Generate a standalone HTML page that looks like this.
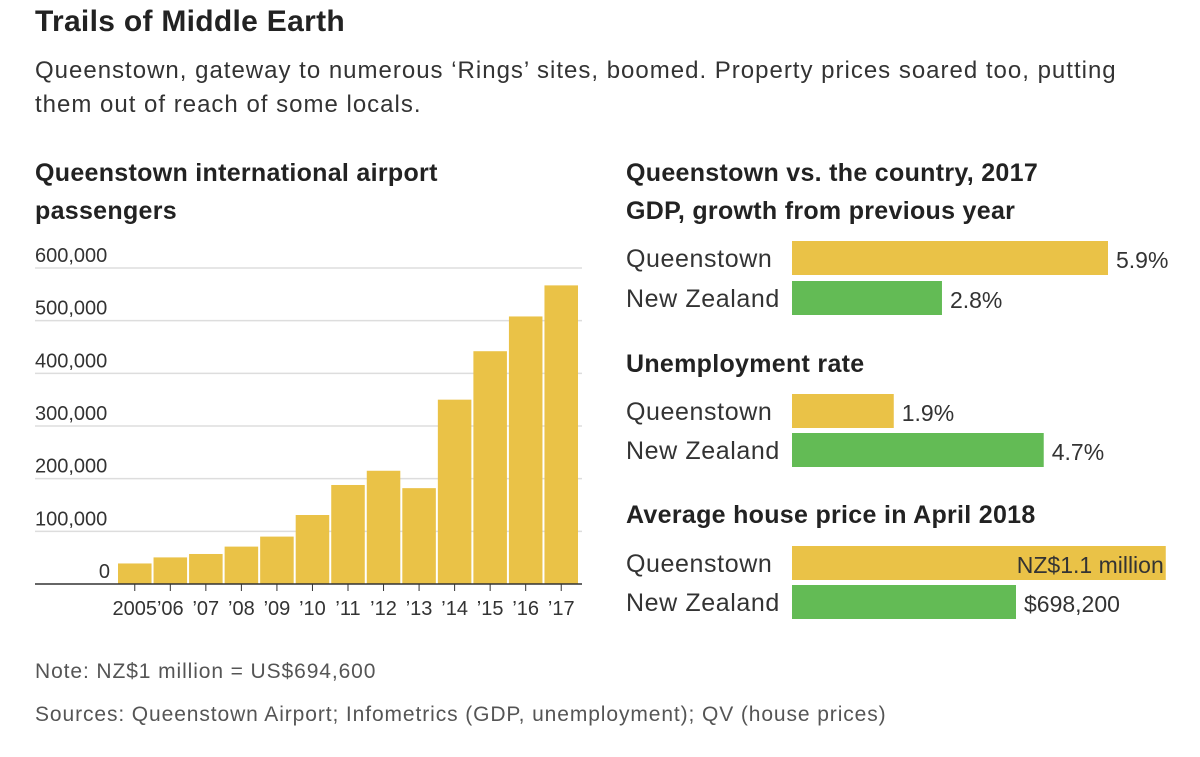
<!DOCTYPE html>
<html><head><meta charset="utf-8"><style>
body{margin:0;background:#fff;font-family:"Liberation Sans",sans-serif;color:#222;}
.t{position:absolute;white-space:nowrap}
</style></head><body>
<div style="position:relative;width:1200px;height:757px;overflow:hidden">
<div class="t" style="left:35px;top:5px;font-size:30px;font-weight:bold;letter-spacing:0.3px">Trails of Middle Earth</div>
<div class="t" style="left:35px;top:54px;font-size:24px;letter-spacing:1px;line-height:34px;color:#333">Queenstown, gateway to numerous ‘Rings’ sites, boomed. Property prices soared too, putting<br>them out of reach of some locals.</div>
<div class="t" style="left:35px;top:154px;font-size:25px;letter-spacing:0.3px;font-weight:bold;line-height:38px">Queenstown international airport<br>passengers</div>
<div class="t" style="left:626px;top:154px;font-size:25px;letter-spacing:0.3px;font-weight:bold;line-height:38px">Queenstown vs. the country, 2017<br>GDP, growth from previous year</div>
<div class="t" style="left:626px;top:350px;font-size:25px;letter-spacing:0.3px;font-weight:bold">Unemployment rate</div>
<div class="t" style="left:626px;top:501px;font-size:25px;letter-spacing:0.3px;font-weight:bold">Average house price in April 2018</div>
<div class="t" style="left:35px;top:660px;font-size:21px;letter-spacing:0.9px;color:#555">Note: NZ$1 million = US$694,600</div>
<div class="t" style="left:35px;top:703px;font-size:21px;letter-spacing:0.9px;color:#555">Sources: Queenstown Airport; Infometrics (GDP, unemployment); QV (house prices)</div>
<svg id="svg" width="1200" height="757" style="position:absolute;left:0;top:0"></svg>
</div>
<script>
const years=["2005","’06","’07","’08","’09","’10","’11","’12","’13","’14","’15","’16","’17"];
const passengers=[39000,50500,57000,71000,90000,131000,188000,215000,182000,350000,442000,508000,567000];
const yTicks=[0,100000,200000,300000,400000,500000,600000];
const yTickLabels=["0","100,000","200,000","300,000","400,000","500,000","600,000"];
const places=["Queenstown","New Zealand"];
const gdp=[5.9,2.8];
const gdpLabels=["5.9%","2.8%"];
const unemp=[1.9,4.7];
const unempLabels=["1.9%","4.7%"];
const house=[1165000,698200];
const houseLabels=["NZ$1.1 million","$698,200"];
const NS="http://www.w3.org/2000/svg";
const svg=document.getElementById('svg');
function mk(t,a){const e=document.createElementNS(NS,t);for(const k in a)e.setAttribute(k,a[k]);svg.appendChild(e);return e;}
const y0=584,yTop=268,yMax=600000;
const y=v=>y0-(v/yMax)*(y0-yTop);
const bx0=118,step=(580-118)/years.length;
const x=i=>bx0+i*step;
yTicks.forEach((v,i)=>{
  if(v>0){const g=mk('line',{x1:35,x2:582,y1:y(v),y2:y(v),stroke:'#ddd','stroke-width':1.5});
  
  }
  const t=mk('text',{x:v===0?110:35,y:y(v)-6,'font-size':20,fill:'#333','text-anchor':v===0?'end':'start','font-family':'Liberation Sans'});
  t.textContent=yTickLabels[i];
  
  
});
passengers.forEach((v,i)=>{
  const r=mk('rect',{x:x(i),y:y(v),width:step-2,height:y0-y(v),fill:'#eac247'});
  
  
  const cx=x(i)+(step-2)/2;
  const tk=mk('line',{x1:cx,x2:cx,y1:y0,y2:y0+7,stroke:'#333','stroke-width':1});
  
  
  const t=mk('text',{x:cx,y:615,'font-size':20,fill:'#333','text-anchor':'middle','font-family':'Liberation Sans'});
  t.textContent=years[i];
  
  
});
const base=mk('line',{x1:35,x2:582,y1:y0,y2:y0,stroke:'#333','stroke-width':1.5});


function hbars(vals,labels,scale,tops,key,inside){
  vals.forEach((v,i)=>{
    const w=v*scale;
    const r=mk('rect',{x:792,y:tops[i],width:w,height:34,fill:i===0?'#eac247':'#63bb55'});
    
    
    const c=mk('text',{x:626,y:tops[i]+26,'font-size':25,'letter-spacing':0.6,fill:'#333','font-family':'Liberation Sans'});
    c.textContent=places[i];
    
    
    const inl=inside&&i===0;
    const t=mk('text',{x:inl?792+w-2:792+w+8,y:tops[i]+27,'font-size':23,fill:'#333','text-anchor':inl?'end':'start','font-family':'Liberation Sans'});
    t.textContent=labels[i];
    
    
  });
}
const pct=316/5.9;
hbars(gdp,gdpLabels,pct,[241,281],'gdp',false);
hbars(unemp,unempLabels,pct,[394,433],'unemployment',false);
hbars(house,houseLabels,224/698200,[546,585],'house-price',true);
</script>
</body></html>
